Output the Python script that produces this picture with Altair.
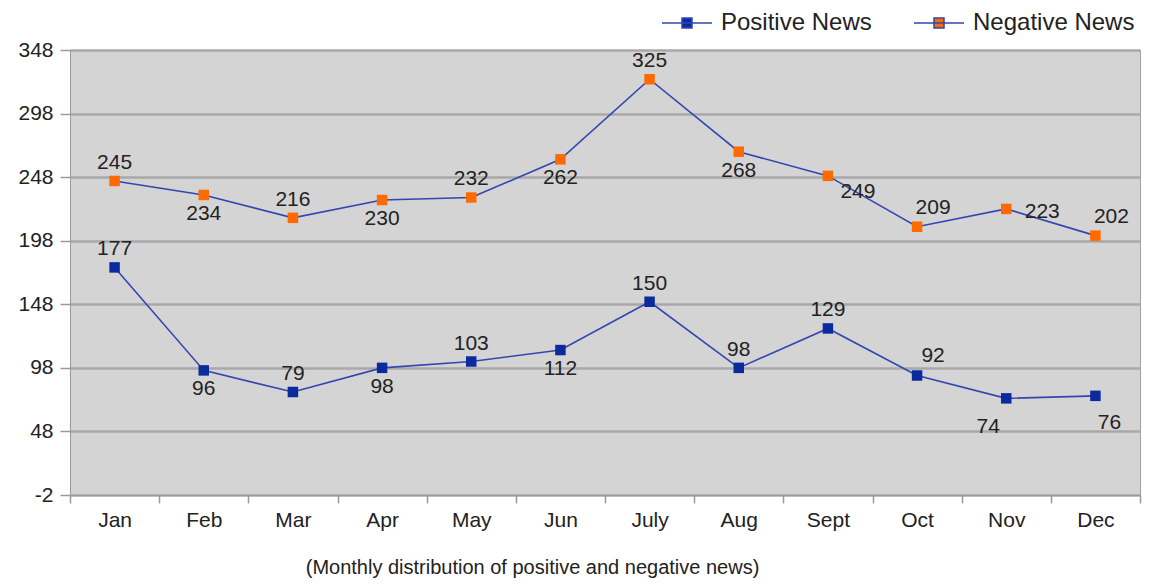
import altair as alt
import pandas as pd

months = ["Jan", "Feb", "Mar", "Apr", "May", "Jun", "July", "Aug", "Sept", "Oct", "Nov", "Dec"]
positive = [177, 96, 79, 98, 103, 112, 150, 98, 129, 92, 74, 76]
negative = [245, 234, 216, 230, 232, 262, 325, 268, 249, 209, 223, 202]
positive_label_side = ["a", "b", "a", "b", "a", "b", "a", "a", "a", "ar", "bl", "br2"]
negative_label_side = ["a", "b", "a", "b", "a", "b", "a", "b", "br", "ar", "r", "ar"]
series_names = ["Positive News", "Negative News"]
marker_colors = ["#0b2a9e", "#ff6a00"]
y_ticks = [-2, 48, 98, 148, 198, 248, 298, 348]
x_title = "(Monthly distribution of positive and negative news)"

# label placements (pixel offsets) per placement code
OFFSETS = {
    "a": (0, -18),
    "b": (0, 19),
    "ar": (16, -19),
    "br": (30, 16),
    "br2": (14, 27),
    "r": (36, 3),
    "bl": (-18, 29),
}

rows = []
for name, vals, sides in [(series_names[0], positive, positive_label_side),
                          (series_names[1], negative, negative_label_side)]:
    for m, v, s in zip(months, vals, sides):
        rows.append({"month": m, "series": name, "value": v, "side": s})
df = pd.DataFrame(rows)

FONT = "Liberation Sans"
LINE_COLOR = "#3346b0"
TEXT = "#222222"
FS = 21

x_enc = alt.X(
    "month:N", sort=months,
    scale=alt.Scale(type="band", paddingInner=0, paddingOuter=0),
    axis=alt.Axis(
        title=x_title, labelAngle=0, tickBand="extent", ticks=True, tickSize=8,
        tickColor="#9a9a9a", tickWidth=1.5, domainColor="#9a9a9a", labelPadding=6,
        labelFontSize=FS, labelFont=FONT, labelColor=TEXT,
        titleFontSize=20, titleFont=FONT, titleColor=TEXT, titleFontWeight="normal",
        titleX=462, titleY=72, titleAlign="center", titleBaseline="middle", grid=False,
    ),
)
y_enc = alt.Y(
    "value:Q",
    scale=alt.Scale(domain=[-2, 348], nice=False, zero=False),
    axis=alt.Axis(
        title=None, values=y_ticks, labelExpr="'' + datum.value", tickSize=10,
        tickColor="#9a9a9a", tickWidth=1.5, domainColor="#9a9a9a", labelPadding=7,
        labelFontSize=FS, labelFont=FONT, labelColor=TEXT,
        grid=True, gridColor="#a8a8a8", gridWidth=2.5,
    ),
)

base = alt.Chart(df).encode(x=x_enc, y=y_enc)

lines = base.mark_line(color=LINE_COLOR, strokeWidth=1.6).encode(detail="series:N")

legend_symbol = "M-2.5,0H2.5M-0.5,-0.5H0.5V0.5H-0.5Z"
points = base.mark_square(size=110, opacity=1).encode(
    color=alt.Color(
        "series:N",
        scale=alt.Scale(domain=series_names, range=marker_colors),
        legend=alt.Legend(
            title=None, orient="none", legendX=605, legendY=-39, direction="horizontal",
            symbolType=legend_symbol, symbolSize=400, symbolStrokeColor=LINE_COLOR,
            symbolStrokeWidth=1.5, symbolOpacity=1, labelFontSize=24, labelFont=FONT,
            labelColor=TEXT, labelOffset=22, columnPadding=39, labelLimit=400,
        ),
    )
)

texts = []
for code, (dx, dy) in OFFSETS.items():
    texts.append(
        base.mark_text(dx=dx, dy=dy, fontSize=FS, font=FONT, color=TEXT)
        .encode(text="value:Q")
        .transform_filter(alt.datum.side == code)
    )

chart = alt.layer(lines, points, *texts).properties(
    width=1070, height=445,
    background="white",
    autosize=alt.AutoSizeParams(type="none"),
    padding={"left": 62, "top": 42, "right": 2, "bottom": 83},
).configure_view(fill="#d4d4d4", stroke="#a0a0a0", strokeWidth=1)

chart.save("out.html", embed_options={"renderer": "svg", "actions": False})
